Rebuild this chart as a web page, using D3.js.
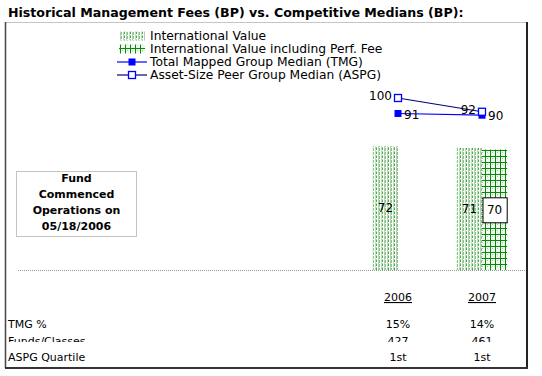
<!DOCTYPE html>
<html>
<head>
    <title>Historical Management Fees vs. Competitive Medians</title>
    <script src="https://d3js.org/d3.v7.min.js"></script>
    <style>
        body {
            margin: 0;
            background: #fff;
            font-family: "DejaVu Sans", Verdana, sans-serif;
        }
        svg text {
            fill: #000;
        }
        .title {
            font-weight: bold;
            font-size: 12.6px;
        }
        .legend text {
            font-size: 12.3px;
        }
        .note text {
            font-weight: bold;
            font-size: 11px;
        }
        .value-label {
            font-size: 12px;
        }
        .table text {
            font-size: 11px;
        }
    </style>
</head>
<body>
    <svg id="chart" width="542" height="376"></svg>

    <script>
        // year slots on the category axis (only the last two carry data)
        const years = ["2002", "2003", "2004", "2005", "2006", "2007"];
        const tableYears = ["2006", "2007"];

        // fees in basis points
        const intlValue = [null, null, null, null, 72, 71];
        const intlValuePerf = [null, null, null, null, null, 70];
        const tmgMedian = [null, null, null, null, 91, 90];
        const aspgMedian = [null, null, null, null, 100, 92];

        // table under the chart
        const tmgPct = ["15%", "14%"];
        const fundsClasses = ["427", "461"];
        const aspgQuartile = ["1st", "1st"];

        const legendNames = [
            "International Value",
            "International Value including Perf. Fee",
            "Total Mapped Group Median (TMG)",
            "Asset-Size Peer Group Median (ASPG)"
        ];
        const noteLines = ["Fund", "Commenced", "Operations on", "05/18/2006"];

        const svg = d3.select("#chart");
        const defs = svg.append("defs");

        // stippled green pattern for International Value
        const dots = defs.append("pattern")
            .attr("id", "dots")
            .attr("patternUnits", "userSpaceOnUse")
            .attr("width", 6).attr("height", 4);
        dots.append("rect").attr("width", 6).attr("height", 4).attr("fill", "#fff");
        dots.append("rect").attr("x", 0).attr("width", 1).attr("height", 4).attr("fill", "#c4c4c4");
        dots.append("rect").attr("x", 1).attr("width", 1).attr("height", 3).attr("fill", "#7ccc7c");
        dots.append("rect").attr("x", 3).attr("width", 1).attr("height", 4).attr("fill", "#b8e4b8");
        dots.append("rect").attr("x", 4).attr("width", 1).attr("height", 2).attr("fill", "#3fae3f");
        dots.append("rect").attr("x", 4).attr("y", 3).attr("width", 1).attr("height", 1).attr("fill", "#9ad89a");

        // green grid for the perf. fee series
        const grid = defs.append("pattern")
            .attr("id", "grid")
            .attr("patternUnits", "userSpaceOnUse")
            .attr("width", 5).attr("height", 6);
        grid.append("rect").attr("width", 5).attr("height", 6).attr("fill", "#eef8ee");
        grid.append("rect").attr("x", 2).attr("y", 2).attr("width", 1).attr("height", 1).attr("fill", "#9bd59b");
        grid.append("rect").attr("x", 0).attr("width", 1).attr("height", 6).attr("fill", "#0a870a");
        grid.append("rect").attr("y", 0).attr("width", 5).attr("height", 1).attr("fill", "#0a870a");

        // title
        svg.append("text")
            .attr("class", "title")
            .attr("x", 8)
            .attr("y", 17)
            .text("Historical Management Fees (BP) vs. Competitive Medians (BP):");

        // frame
        svg.append("rect")
            .attr("x", 5.5).attr("y", 22.5)
            .attr("width", 521).attr("height", 345)
            .attr("fill", "none")
            .attr("stroke", "#8a8a8a")
            .attr("stroke-dasharray", "1,1");
        svg.append("line").attr("x1", 5.5).attr("x2", 5.5).attr("y1", 22).attr("y2", 368)
            .attr("stroke", "#444").attr("stroke-width", 1.5);
        svg.append("line").attr("x1", 527).attr("x2", 527).attr("y1", 22).attr("y2", 369)
            .attr("stroke", "#222").attr("stroke-width", 2);
        svg.append("line").attr("x1", 5).attr("x2", 528).attr("y1", 368).attr("y2", 368)
            .attr("stroke", "#333").attr("stroke-width", 2);

        // scales
        const x = d3.scaleBand()
            .domain(years)
            .range([20, 524])
            .paddingInner(0.4)
            .paddingOuter(0.2);

        const xSub = d3.scaleBand()
            .domain(["iv", "perf"])
            .range([0, x.bandwidth()]);

        const y = d3.scaleLinear()
            .domain([0, 140])
            .range([270, 29.2]);

        // baseline
        svg.append("line")
            .attr("x1", 18).attr("x2", 525)
            .attr("y1", y(0) + 0.5).attr("y2", y(0) + 0.5)
            .attr("stroke", "#999")
            .attr("stroke-dasharray", "1,1");

        // bars
        const barData = [];
        years.forEach((yr, i) => {
            if (intlValue[i] != null) barData.push({year: yr, key: "iv", value: intlValue[i]});
            if (intlValuePerf[i] != null) barData.push({year: yr, key: "perf", value: intlValuePerf[i]});
        });

        svg.append("g").selectAll("rect")
            .data(barData)
            .join("rect")
            .attr("x", d => x(d.year) + xSub(d.key))
            .attr("y", d => y(d.value))
            .attr("width", xSub.bandwidth())
            .attr("height", d => y(0) - y(d.value))
            .attr("fill", d => d.key === "iv" ? "url(#dots)" : "url(#grid)");

        const barLabels = svg.append("g").selectAll("g")
            .data(barData)
            .join("g")
            .attr("transform", d => `translate(${x(d.year) + xSub(d.key) + xSub.bandwidth() / 2},${(y(d.value) + y(0)) / 2})`);

        barLabels.filter(d => d.key === "perf")
            .append("rect")
            .attr("x", -xSub.bandwidth() / 2 + 1)
            .attr("y", -12)
            .attr("width", xSub.bandwidth() - 1)
            .attr("height", 25)
            .attr("fill", "#fff")
            .attr("stroke", "#000");

        barLabels.append("text")
            .attr("class", "value-label")
            .attr("text-anchor", "middle")
            .attr("dy", "0.35em")
            .text(d => d.value);

        // median lines
        const cx = yr => x(yr) + x.bandwidth() / 2;
        const lineSeries = [
            {name: "tmg", values: tmgMedian, color: "#0000ff", filled: true, side: 1},
            {name: "aspg", values: aspgMedian, color: "#00007f", filled: false, side: -1}
        ];

        const line = d3.line()
            .defined(d => d.value != null)
            .x(d => cx(d.year))
            .y(d => y(d.value));

        lineSeries.forEach(s => {
            const pts = years.map((yr, i) => ({year: yr, value: s.values[i]}));
            const g = svg.append("g");
            g.append("path")
                .datum(pts)
                .attr("fill", "none")
                .attr("stroke", s.color)
                .attr("stroke-width", 1.2)
                .attr("d", line);

            const valid = pts.filter(d => d.value != null);
            g.selectAll("rect")
                .data(valid)
                .join("rect")
                .attr("x", d => cx(d.year) - 3.5)
                .attr("y", d => y(d.value) - 3.5)
                .attr("width", 7)
                .attr("height", 7)
                .attr("fill", s.filled ? "#0000ff" : "#fff")
                .attr("stroke", "#0000ff")
                .attr("stroke-width", s.filled ? 0 : 1.3);

            g.selectAll("text")
                .data(valid)
                .join("text")
                .attr("class", "value-label")
                .attr("x", d => cx(d.year) + s.side * 6)
                .attr("y", d => y(d.value) + (s.side < 0 ? -2 : 1))
                .attr("dy", "0.35em")
                .attr("text-anchor", s.side < 0 ? "end" : "start")
                .text(d => d.value);
        });

        // legend
        const legend = svg.append("g").attr("class", "legend");
        const legendY = d3.scalePoint()
            .domain(legendNames)
            .range([36, 75]);

        legendNames.forEach((name, i) => {
            const ly = legendY(name);
            if (i < 2) {
                legend.append("rect")
                    .attr("x", 119).attr("y", ly - 4.5)
                    .attr("width", 26).attr("height", 9)
                    .attr("fill", i === 0 ? "url(#dots)" : "url(#grid)");
            } else {
                legend.append("line")
                    .attr("x1", 117).attr("x2", 147)
                    .attr("y1", ly).attr("y2", ly)
                    .attr("stroke", lineSeries[i - 2].color)
                    .attr("stroke-width", 1.2);
                legend.append("rect")
                    .attr("x", 128.5).attr("y", ly - 3.5)
                    .attr("width", 7).attr("height", 7)
                    .attr("fill", i === 2 ? "#0000ff" : "#fff")
                    .attr("stroke", "#0000ff")
                    .attr("stroke-width", i === 2 ? 0 : 1.3);
            }
            legend.append("text")
                .attr("x", 150)
                .attr("y", ly)
                .attr("dy", "0.35em")
                .text(name);
        });

        // note box
        const note = svg.append("g").attr("class", "note");
        note.append("rect")
            .attr("x", 16.5).attr("y", 171.5)
            .attr("width", 120).attr("height", 65)
            .attr("fill", "#fff")
            .attr("stroke", "#888")
            .attr("stroke-dasharray", "1,1");
        note.selectAll("text")
            .data(noteLines)
            .join("text")
            .attr("x", 76.5)
            .attr("y", (d, i) => 182 + i * 16)
            .attr("text-anchor", "middle")
            .text(d => d);

        // data table
        const table = svg.append("g").attr("class", "table");
        const tx = yr => cx(yr);

        table.selectAll(".year")
            .data(tableYears)
            .join("text")
            .attr("class", "year")
            .attr("x", tx)
            .attr("y", 301)
            .attr("text-anchor", "middle")
            .attr("text-decoration", "underline")
            .text(d => d);

        defs.append("clipPath").attr("id", "rowclip")
            .append("rect").attr("x", 0).attr("y", 320).attr("width", 542).attr("height", 22);

        const rows = [
            {label: "TMG %", values: tmgPct, y: 328, clip: false},
            {label: "Funds/Classes", values: fundsClasses, y: 345, clip: true},
            {label: "ASPG Quartile", values: aspgQuartile, y: 361, clip: false}
        ];
        rows.forEach(r => {
            const g = table.append("g");
            if (r.clip) g.attr("clip-path", "url(#rowclip)");
            g.append("text").attr("x", 8).attr("y", r.y).text(r.label);
            g.selectAll(".v")
                .data(tableYears)
                .join("text")
                .attr("class", "v")
                .attr("x", tx)
                .attr("y", r.y)
                .attr("text-anchor", "middle")
                .text((d, i) => r.values[i]);
        });
    </script>
</body>
</html>
